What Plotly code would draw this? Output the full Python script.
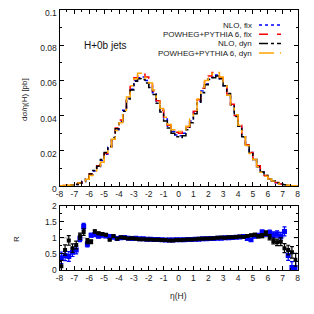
import numpy as np
import plotly.graph_objects as go

# ---- data ----
edges = np.linspace(-8, 8, 65)
nlo_fix = [0.0001,0.0002,0.0003,0.0005,0.0008,0.0015,0.0025,0.0040,
           0.0065,0.0085,0.0110,0.0145,0.0180,0.0220,0.0270,0.0320,
           0.0370,0.0430,0.0500,0.0550,0.0600,0.0615,0.0620,0.0600,
           0.0570,0.0530,0.0480,0.0430,0.0380,0.0340,0.0310,0.0290,
           0.0285,0.0300,0.0330,0.0370,0.0420,0.0480,0.0540,0.0580,
           0.0610,0.0620,0.0630,0.0610,0.0570,0.0520,0.0460,0.0400,
           0.0340,0.0280,0.0230,0.0190,0.0150,0.0110,0.0080,0.0058,
           0.0040,0.0028,0.0018,0.0011,0.0006,0.0003,0.00015,0.00008]
pow_fix = [0.0001,0.0003,0.0004,0.0005,0.0010,0.0018,0.0030,0.0042,
           0.0070,0.0090,0.0115,0.0150,0.0185,0.0225,0.0275,0.0330,
           0.0375,0.0435,0.0510,0.0565,0.0615,0.0640,0.0635,0.0620,
           0.0580,0.0540,0.0485,0.0430,0.0385,0.0345,0.0320,0.0305,
           0.0300,0.0310,0.0335,0.0375,0.0425,0.0490,0.0555,0.0595,
           0.0625,0.0645,0.0640,0.0615,0.0575,0.0520,0.0465,0.0400,
           0.0345,0.0285,0.0235,0.0190,0.0155,0.0115,0.0082,0.0060,
           0.0042,0.0030,0.0020,0.0012,0.0007,0.0004,0.0002,0.0001]
nlo_dyn = [0.0001,0.0002,0.0003,0.0006,0.0009,0.0016,0.0026,0.0040,
           0.0068,0.0088,0.0112,0.0150,0.0190,0.0225,0.0275,0.0325,
           0.0365,0.0425,0.0495,0.0545,0.0595,0.0610,0.0605,0.0585,
           0.0560,0.0520,0.0470,0.0420,0.0370,0.0330,0.0300,0.0280,
           0.0275,0.0285,0.0320,0.0360,0.0410,0.0470,0.0530,0.0575,
           0.0605,0.0615,0.0625,0.0610,0.0570,0.0525,0.0460,0.0395,
           0.0340,0.0280,0.0230,0.0190,0.0150,0.0110,0.0080,0.0060,
           0.0040,0.0028,0.0019,0.0012,0.0007,0.0003,0.0002,0.0001]
pow_dyn = [0.0001,0.0003,0.0004,0.0006,0.0010,0.0017,0.0028,0.0038,
           0.0060,0.0085,0.0105,0.0135,0.0175,0.0215,0.0265,0.0315,
           0.0360,0.0430,0.0505,0.0570,0.0610,0.0640,0.0630,0.0615,
           0.0585,0.0545,0.0490,0.0440,0.0390,0.0350,0.0320,0.0305,
           0.0310,0.0315,0.0340,0.0380,0.0430,0.0495,0.0560,0.0600,
           0.0630,0.0640,0.0645,0.0620,0.0575,0.0515,0.0460,0.0405,
           0.0345,0.0280,0.0230,0.0185,0.0150,0.0110,0.0078,0.0056,
           0.0040,0.0028,0.0018,0.0010,0.0006,0.0004,0.0002,0.0001]

r_fix = [0.38,0.45,0.42,0.55,0.62,0.98,1.35,0.80,
         1.08,1.10,1.05,1.08,1.06,1.04,1.02,0.98,
         1.00,1.01,0.99,0.98,0.99,0.97,0.97,0.96,
         0.96,0.95,0.95,0.94,0.93,0.93,0.93,0.94,
         0.94,0.94,0.95,0.95,0.96,0.96,0.97,0.97,
         0.98,0.98,0.99,0.99,1.00,1.00,1.01,1.02,
         1.03,1.04,0.98,0.94,1.05,1.08,1.18,1.12,
         1.16,1.10,1.12,1.05,1.20,0.45,0.08,0.08]
r_dyn = [0.12,0.62,0.92,0.68,0.78,1.05,1.18,0.90,
         0.88,1.20,1.14,1.12,1.10,0.94,1.06,0.97,
         1.02,1.00,0.98,0.99,0.97,0.96,0.96,0.95,
         0.95,0.94,0.94,0.93,0.93,0.92,0.92,0.93,
         0.93,0.94,0.95,0.95,0.96,0.97,0.97,0.98,
         0.98,0.99,1.00,1.01,1.00,1.02,1.02,1.03,
         1.04,1.03,1.06,1.08,1.10,1.05,1.07,1.15,
         1.02,0.90,0.86,0.88,0.68,0.62,0.55,0.32]
r_err = [0.18,0.16,0.15,0.13,0.12,0.10,0.10,0.08,
         0.06,0.05,0.04,0.04,0.03,0.03,0.03,0.025,
         0.02,0.02,0.02,0.02,0.02,0.02,0.02,0.02,
         0.02,0.02,0.02,0.02,0.02,0.02,0.02,0.02,
         0.02,0.02,0.02,0.02,0.02,0.02,0.02,0.02,
         0.02,0.02,0.02,0.02,0.02,0.02,0.02,0.025,
         0.025,0.03,0.03,0.03,0.04,0.05,0.06,0.07,
         0.08,0.09,0.10,0.12,0.14,0.15,0.18,0.20]

xticks = list(range(-8, 9))
xticktext = [str(v) for v in xticks]
yticks = [0, 0.02, 0.04, 0.06, 0.08, 0.1]
yticktext = ["0", "0.02", "0.04", "0.06", "0.08", "0.1"]
rticks = [0, 0.5, 1, 1.5, 2]
rticktext = ["0", "0.5", "1", "1.5", "2"]

series = [
    ("NLO, fix", nlo_fix, "#0000ff", "dot"),
    ("POWHEG+PYTHIA 6, fix", pow_fix, "#ff0000", "dash"),
    ("NLO, dyn", nlo_dyn, "#000000", "dashdot"),
    ("POWHEG+PYTHIA 6, dyn", pow_dyn, "#ffa500", "longdashdot"),
]

# page has an 8px body margin; figure sized to fit the window
OFF = 8
W = H = 306
def px(x):
    return (x - OFF) / W
def py(y):
    return 1 - (y - OFF) / H

FONT = "Liberation Sans"
TXT = "#222222"
fig = go.Figure()
xe = list(edges)
for name, vals, col, dash in series:
    fig.add_trace(go.Scatter(x=xe, y=list(vals) + [vals[-1]], mode="lines",
                             line=dict(color=col, dash=dash, width=1.5, shape="hv"),
                             xaxis="x", yaxis="y", showlegend=False, name=name))

centers = list((edges[:-1] + edges[1:]) / 2)
fig.add_trace(go.Scatter(x=centers, y=r_fix, mode="markers",
                         marker=dict(symbol="square", size=5, color="#0000ff"),
                         error_y=dict(type="data", array=r_err, color="#0000ff", thickness=1.2, width=2),
                         xaxis="x2", yaxis="y2", showlegend=False))
fig.add_trace(go.Scatter(x=centers, y=r_dyn, mode="markers",
                         marker=dict(symbol="square", size=4, color="#000000"),
                         error_y=dict(type="data", array=r_err, color="#000000", thickness=1.2, width=2),
                         xaxis="x2", yaxis="y2", showlegend=False))

xdom = [px(59.5), px(297.5)]
common = dict(showline=True, linecolor="black", linewidth=1, mirror="ticks",
              ticks="inside", ticklen=4, tickcolor="black", showgrid=False, automargin=False,
              ticklabeloverflow="allow", zeroline=False,
              tickfont=dict(family=FONT, size=8.5, color=TXT))
fig.update_layout(
    width=W, height=H, margin=dict(l=0, r=0, t=0, b=0),
    paper_bgcolor="white", plot_bgcolor="white",
    xaxis=dict(domain=xdom, anchor="y", range=[-8, 8], tickvals=xticks, ticktext=xticktext,
               minor=dict(ticks="inside", ticklen=2, dtick=0.5, tickcolor="black"), **common),
    yaxis=dict(domain=[py(186), py(10)], anchor="x", range=[0, 0.1], tickvals=yticks, ticktext=yticktext,
               ticklabelshift=3,
               minor=dict(ticks="inside", ticklen=2, dtick=0.01, tickcolor="black"), **common),
    xaxis2=dict(domain=xdom, anchor="y2", range=[-8, 8], tickvals=xticks, ticktext=xticktext,
                minor=dict(ticks="inside", ticklen=2, dtick=0.5, tickcolor="black"), **common),
    yaxis2=dict(domain=[py(270), py(205.7)], anchor="x2", range=[0, 2], tickvals=rticks, ticktext=rticktext,
                minor=dict(ticks="inside", ticklen=2, dtick=0.25, tickcolor="black"), **common),
)

fig.add_shape(type="line", xref="x2 domain", yref="y2", x0=0, x1=1, y0=1, y1=1,
              line=dict(color="#aaaaaa", width=1, dash="dash"), layer="below")

ann = []
ann.append(dict(text="H+0b jets", x=px(82), y=py(45), xanchor="left", yanchor="middle",
                font=dict(family=FONT, size=10, color="#111")))
ann.append(dict(text="dσ/η(H) [pb]", x=px(24), y=py(100), textangle=-90, xanchor="center", yanchor="middle",
                font=dict(family=FONT, size=8, color=TXT)))
ann.append(dict(text="R", x=px(16), y=py(239), textangle=-90, xanchor="center", yanchor="middle",
                font=dict(family=FONT, size=8, color=TXT)))
ann.append(dict(text="η(H)", x=px(178), y=py(296), xanchor="center", yanchor="middle",
                font=dict(family=FONT, size=8.5, color=TXT)))
leg_y = [25, 34.3, 43.6, 53]
for (name, vals, col, dash), yy in zip(series, leg_y):
    ann.append(dict(text=name, x=px(254), y=py(yy), xanchor="right", yanchor="middle",
                    font=dict(family=FONT, size=8, color=TXT)))
    fig.add_shape(type="line", xref="paper", yref="paper", x0=px(259), x1=px(281), y0=py(yy), y1=py(yy),
                  line=dict(color=col, dash=dash, width=1.5))
for a in ann:
    a.update(xref="paper", yref="paper", showarrow=False)
fig.update_layout(annotations=ann)

fig.write_html("out.html")
